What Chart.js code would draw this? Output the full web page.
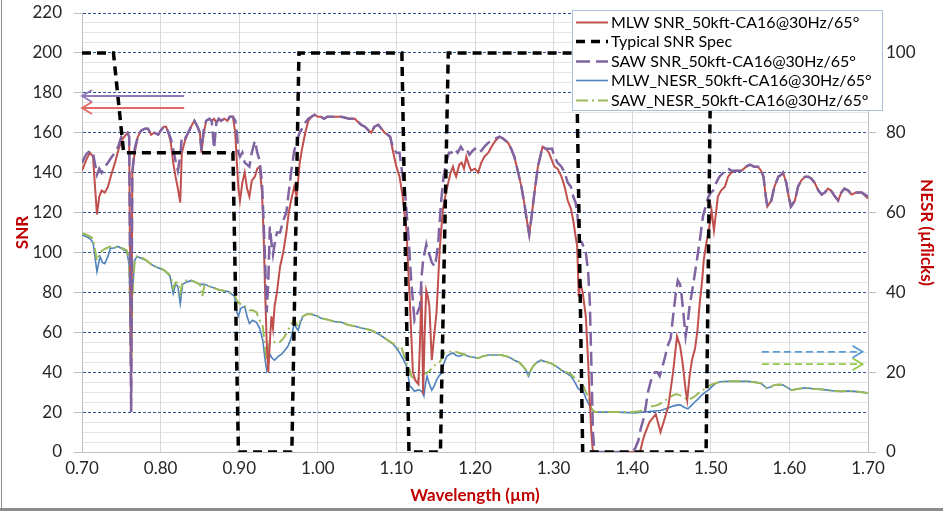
<!DOCTYPE html>
<html lang="en">
<head>
<meta charset="UTF-8">
<title>SNR / NESR vs Wavelength</title>
<script src="https://cdn.jsdelivr.net/npm/chart.js"></script>
<style>
  html, body { margin: 0; padding: 0; background: #fff; }
</style>
</head>
<body>
<canvas id="snrChart" width="943" height="515"></canvas>
<script>
// [wavelength µm, SNR]
const mlwSnr = [[0.700,141],[0.705,146],[0.710,150],[0.714,148],[0.719,119],[0.722,128],[0.725,131],[0.729,130],[0.733,133],[0.738,140],[0.742,145],[0.746,151],[0.750,156],[0.754,158],[0.758,160],[0.760,158],[0.7625,20],[0.764,140],[0.767,150],[0.771,158],[0.775,161],[0.780,162],[0.784,162],[0.788,159],[0.792,160],[0.797,159],[0.800,161],[0.804,163],[0.807,163],[0.810,160],[0.813,155],[0.816,145],[0.819,138],[0.822,132],[0.825,125],[0.827,150],[0.831,156],[0.835,160],[0.840,164],[0.843,166],[0.847,163],[0.850,160],[0.852,150],[0.855,160],[0.858,166],[0.862,167],[0.865,166],[0.868,167],[0.871,165],[0.874,167],[0.877,166],[0.881,167],[0.885,166],[0.888,168],[0.892,168],[0.895,160],[0.897,145],[0.899,132],[0.901,126],[0.904,135],[0.907,140],[0.910,132],[0.913,128],[0.916,136],[0.920,138],[0.923,142],[0.926,143],[0.929,130],[0.931,110],[0.933,80],[0.935,55],[0.937,40],[0.939,55],[0.941,68],[0.943,62],[0.945,73],[0.948,80],[0.952,93],[0.956,100],[0.960,110],[0.963,120],[0.966,126],[0.970,133],[0.973,128],[0.975,136],[0.977,145],[0.980,152],[0.984,160],[0.988,166],[0.992,168],[0.996,169],[1.000,168],[1.004,168],[1.008,167],[1.012,168],[1.020,168],[1.030,168],[1.040,167],[1.047,167],[1.055,164],[1.060,163],[1.065,161],[1.068,160],[1.072,163],[1.077,164],[1.081,162],[1.085,160],[1.089,159],[1.092,158],[1.096,150],[1.100,143],[1.104,138],[1.108,128],[1.113,110],[1.117,76],[1.121,40],[1.124,36],[1.128,34],[1.130,55],[1.132,83],[1.134,29],[1.136,60],[1.138,81],[1.140,78],[1.142,73],[1.145,46],[1.148,58],[1.151,70],[1.153,85],[1.155,101],[1.159,121],[1.163,130],[1.166,135],[1.169,140],[1.172,143],[1.174,140],[1.176,138],[1.180,144],[1.183,145],[1.186,142],[1.189,148],[1.192,144],[1.195,141],[1.200,142],[1.204,140],[1.208,145],[1.212,148],[1.217,150],[1.221,153],[1.226,156],[1.231,158],[1.236,157],[1.242,155],[1.246,152],[1.250,148],[1.255,140],[1.259,133],[1.263,124],[1.266,116],[1.269,109],[1.272,118],[1.275,128],[1.280,143],[1.286,153],[1.290,152],[1.294,150],[1.298,146],[1.301,143],[1.305,142],[1.310,138],[1.314,133],[1.318,126],[1.322,122],[1.325,116],[1.328,108],[1.330,103],[1.332,78],[1.334,85],[1.337,80],[1.341,68],[1.344,45],[1.346,26],[1.348,10],[1.350,0],[1.410,0],[1.413,5],[1.416,9],[1.422,15],[1.430,19],[1.436,10],[1.440,15],[1.446,23],[1.452,40],[1.457,58],[1.461,53],[1.464,45],[1.468,31],[1.470,26],[1.473,38],[1.476,46],[1.480,52],[1.483,61],[1.486,75],[1.489,86],[1.491,96],[1.494,104],[1.497,110],[1.501,121],[1.504,111],[1.509,128],[1.513,131],[1.518,133],[1.522,138],[1.526,140],[1.532,141],[1.539,141],[1.545,143],[1.550,144],[1.555,143],[1.560,143],[1.564,141],[1.567,138],[1.570,128],[1.572,123],[1.577,126],[1.581,133],[1.586,138],[1.590,139],[1.592,140],[1.596,135],[1.599,128],[1.602,123],[1.607,126],[1.611,133],[1.615,136],[1.620,138],[1.624,138],[1.628,137],[1.632,135],[1.637,131],[1.641,129],[1.645,130],[1.649,132],[1.653,131],[1.658,128],[1.662,126],[1.666,130],[1.670,132],[1.675,131],[1.679,129],[1.685,130],[1.692,130],[1.700,127]];

const specSnr = [[0.700,200],[0.740,200],[0.753,150],[0.892,150],[0.899,0],[0.967,0],[0.976,200],[1.107,200],[1.116,0],[1.156,0],[1.166,200],[1.329,200],[1.337,0],[1.494,0],[1.500,200],[1.700,200]];

const sawSnr = [[0.700,145],[0.705,149],[0.710,151],[0.714,150],[0.719,139],[0.722,142],[0.725,140],[0.729,143],[0.733,145],[0.738,148],[0.742,150],[0.746,153],[0.750,158],[0.754,159],[0.758,160],[0.760,158],[0.7625,20],[0.764,140],[0.767,152],[0.771,158],[0.775,161],[0.780,162],[0.784,162],[0.788,159],[0.792,160],[0.797,159],[0.800,161],[0.804,163],[0.807,163],[0.810,160],[0.813,157],[0.816,152],[0.819,146],[0.822,141],[0.825,148],[0.827,158],[0.831,157],[0.835,160],[0.840,164],[0.843,166],[0.847,163],[0.850,160],[0.852,151],[0.855,162],[0.858,166],[0.862,167],[0.865,166],[0.868,152],[0.871,165],[0.874,167],[0.877,166],[0.881,167],[0.885,166],[0.888,168],[0.892,168],[0.895,166],[0.897,160],[0.899,150],[0.901,148],[0.904,150],[0.907,145],[0.910,144],[0.913,143],[0.916,150],[0.920,156],[0.923,150],[0.926,146],[0.929,135],[0.931,116],[0.933,95],[0.935,70],[0.937,85],[0.939,113],[0.941,105],[0.943,99],[0.945,104],[0.948,110],[0.952,110],[0.956,116],[0.960,120],[0.963,130],[0.966,140],[0.970,151],[0.973,155],[0.975,158],[0.977,160],[0.980,162],[0.984,165],[0.988,167],[0.992,168],[0.996,169],[1.000,168],[1.004,168],[1.008,167],[1.012,168],[1.020,168],[1.030,168],[1.040,167],[1.047,167],[1.055,164],[1.060,163],[1.065,161],[1.068,160],[1.072,163],[1.077,164],[1.081,162],[1.085,160],[1.089,159],[1.092,158],[1.096,152],[1.100,150],[1.104,150],[1.108,138],[1.111,130],[1.115,110],[1.119,85],[1.123,66],[1.127,70],[1.130,73],[1.132,88],[1.134,96],[1.136,100],[1.138,104],[1.140,100],[1.142,99],[1.145,95],[1.149,93],[1.151,98],[1.153,104],[1.155,115],[1.157,126],[1.160,138],[1.164,146],[1.167,150],[1.170,150],[1.174,152],[1.178,150],[1.182,153],[1.185,151],[1.189,152],[1.193,149],[1.197,151],[1.200,152],[1.204,150],[1.208,151],[1.212,153],[1.217,155],[1.221,156],[1.226,157],[1.231,158],[1.236,157],[1.242,155],[1.246,152],[1.250,148],[1.255,140],[1.259,133],[1.263,124],[1.266,116],[1.269,109],[1.272,118],[1.275,128],[1.280,143],[1.286,153],[1.290,152],[1.294,152],[1.298,152],[1.301,148],[1.305,145],[1.310,143],[1.314,140],[1.318,135],[1.322,133],[1.325,128],[1.328,125],[1.330,120],[1.333,106],[1.336,105],[1.339,102],[1.341,100],[1.344,90],[1.346,76],[1.348,45],[1.350,10],[1.352,0],[1.400,0],[1.404,2],[1.408,6],[1.411,12],[1.414,16],[1.417,22],[1.420,30],[1.424,36],[1.429,40],[1.432,40],[1.435,38],[1.438,42],[1.442,48],[1.445,53],[1.449,57],[1.452,68],[1.455,78],[1.458,86],[1.461,84],[1.463,78],[1.466,66],[1.468,58],[1.471,66],[1.473,73],[1.476,80],[1.480,90],[1.483,98],[1.486,106],[1.490,118],[1.494,124],[1.497,128],[1.500,130],[1.503,131],[1.507,135],[1.511,138],[1.516,140],[1.522,142],[1.526,141],[1.532,141],[1.539,141],[1.545,143],[1.550,144],[1.555,143],[1.560,143],[1.564,141],[1.567,138],[1.570,128],[1.572,123],[1.577,126],[1.581,133],[1.586,138],[1.590,139],[1.592,140],[1.596,135],[1.599,128],[1.602,123],[1.607,126],[1.611,133],[1.615,136],[1.620,138],[1.624,138],[1.628,137],[1.632,135],[1.637,131],[1.641,129],[1.645,130],[1.649,132],[1.653,131],[1.658,128],[1.662,126],[1.666,130],[1.670,132],[1.675,131],[1.679,129],[1.685,130],[1.692,130],[1.700,128]];

// [wavelength µm, NESR µflicks]
const mlwNesr = [[0.700,54.4],[0.705,54.0],[0.710,53.5],[0.714,52.5],[0.719,45.2],[0.723,49],[0.726,47.5],[0.729,47.2],[0.733,49],[0.736,51],[0.742,51.2],[0.746,51.5],[0.752,50.8],[0.757,50.2],[0.760,47],[0.7625,25],[0.764,40],[0.767,48],[0.770,49],[0.776,48.5],[0.782,48],[0.788,47],[0.793,46.5],[0.799,46],[0.805,45.5],[0.810,44.5],[0.812,44],[0.816,39.7],[0.819,42],[0.822,41.5],[0.825,37.2],[0.828,42],[0.832,42.5],[0.839,43],[0.845,42.5],[0.850,42],[0.856,42],[0.862,41.5],[0.869,41],[0.875,40.6],[0.881,40.4],[0.886,40.2],[0.890,39.6],[0.894,39],[0.897,35],[0.899,34],[0.902,36],[0.907,36.5],[0.910,34],[0.913,32.2],[0.917,33],[0.922,32.5],[0.926,31],[0.930,28],[0.933,23],[0.935,20.5],[0.937,22],[0.939,24.5],[0.942,23.5],[0.945,23],[0.950,24],[0.954,24.5],[0.958,25.5],[0.962,26.5],[0.966,28.5],[0.970,32.2],[0.973,31],[0.975,30.5],[0.978,32.5],[0.981,34],[0.986,34.5],[0.992,34.5],[1.000,34],[1.004,33.5],[1.012,33.2],[1.021,32.7],[1.030,32.5],[1.038,31.9],[1.047,31.5],[1.057,31],[1.068,30.5],[1.078,29.5],[1.089,28],[1.096,27],[1.102,25.5],[1.108,23.5],[1.113,21.5],[1.117,16.5],[1.120,16],[1.123,15.2],[1.127,15.5],[1.130,15.5],[1.133,15],[1.135,14],[1.137,17],[1.139,19],[1.142,17],[1.145,15.5],[1.148,16.5],[1.151,18],[1.154,19],[1.157,19.7],[1.160,22],[1.164,24],[1.168,24.5],[1.172,24.8],[1.176,24.2],[1.180,24],[1.186,24.5],[1.191,24],[1.197,23.8],[1.204,23.5],[1.210,24],[1.217,24.3],[1.225,24.3],[1.233,24.3],[1.240,24],[1.246,23.5],[1.250,23],[1.256,22.5],[1.261,21.5],[1.265,20.5],[1.268,19],[1.271,20.5],[1.274,21.5],[1.279,22.5],[1.284,23],[1.290,22.6],[1.297,22.2],[1.303,21.5],[1.310,20.5],[1.316,19.8],[1.322,19],[1.327,17.5],[1.331,16],[1.334,15.5],[1.337,15.5],[1.341,13.5],[1.346,11.5],[1.350,10.3],[1.355,10],[1.380,10],[1.403,9.8],[1.425,10.2],[1.436,10.4],[1.446,11],[1.452,11.5],[1.458,11.8],[1.461,11.8],[1.466,11.2],[1.471,10.8],[1.476,11.8],[1.480,12.6],[1.485,13.5],[1.488,14.2],[1.493,15],[1.497,15.5],[1.501,16.3],[1.507,17.3],[1.512,17.6],[1.522,17.7],[1.535,17.7],[1.547,17.7],[1.556,17.5],[1.564,17.2],[1.568,16.5],[1.571,16],[1.576,16.3],[1.581,16.8],[1.587,16.9],[1.592,16.8],[1.597,16.2],[1.603,15.5],[1.610,15.8],[1.617,16],[1.624,16],[1.632,15.8],[1.640,15.7],[1.649,15.5],[1.657,15.3],[1.666,15.2],[1.675,15.3],[1.683,15.2],[1.692,15],[1.700,14.8]];

const sawNesr = [[0.700,54.8],[0.705,54.5],[0.710,54],[0.714,53.5],[0.719,48],[0.723,50],[0.726,50.5],[0.730,51],[0.736,51.5],[0.742,51.3],[0.746,51.5],[0.752,51],[0.757,50.5],[0.760,48],[0.7625,21],[0.764,38],[0.767,48],[0.770,49],[0.776,48.7],[0.782,48],[0.788,47],[0.793,46.5],[0.799,46.2],[0.805,45.5],[0.810,44.7],[0.813,44],[0.816,41],[0.819,42.5],[0.822,42.5],[0.825,39.7],[0.828,42.5],[0.832,43],[0.839,43],[0.845,42.5],[0.850,42],[0.853,39],[0.856,42],[0.862,41.5],[0.869,41],[0.875,40.6],[0.881,40.4],[0.886,40.2],[0.890,39.8],[0.894,39.5],[0.897,38],[0.899,37.5],[0.902,37],[0.907,36.5],[0.910,36],[0.913,35.5],[0.917,35.5],[0.922,35],[0.926,33],[0.930,31.5],[0.933,26],[0.935,23],[0.937,25],[0.939,28],[0.942,28],[0.945,27.5],[0.950,27.3],[0.954,28],[0.958,29],[0.962,30.5],[0.966,32],[0.970,33],[0.973,32],[0.975,31.5],[0.978,33],[0.981,34],[0.986,34.5],[0.992,34.5],[1.000,34],[1.004,33.5],[1.012,33.2],[1.021,32.7],[1.030,32.5],[1.038,31.9],[1.047,31.5],[1.057,31],[1.068,30.5],[1.078,29.5],[1.089,28],[1.096,27.2],[1.102,26],[1.106,26.5],[1.110,24],[1.113,22.2],[1.117,20.5],[1.119,19],[1.122,18.5],[1.125,18],[1.128,18.3],[1.131,19],[1.134,19.5],[1.137,19.7],[1.140,20],[1.143,20.5],[1.147,21.5],[1.151,22],[1.155,22.5],[1.158,23.5],[1.161,24.8],[1.165,25],[1.170,25.2],[1.174,25.2],[1.180,24.8],[1.186,24.5],[1.191,24],[1.197,23.8],[1.204,23.5],[1.210,24],[1.217,24.3],[1.225,24.3],[1.233,24.3],[1.240,24],[1.246,23.5],[1.250,23],[1.256,22.5],[1.261,21.5],[1.265,20.5],[1.268,19],[1.271,20.5],[1.274,21.5],[1.279,22.5],[1.284,23],[1.290,22.6],[1.297,22.2],[1.303,21.5],[1.310,20.5],[1.316,20],[1.322,19.5],[1.327,18.5],[1.331,18],[1.335,17.3],[1.338,16.5],[1.341,15],[1.344,14],[1.348,11],[1.352,10],[1.380,10],[1.400,10],[1.410,10.2],[1.416,11],[1.422,11.3],[1.429,11.6],[1.435,12],[1.440,12.8],[1.444,13.2],[1.450,14],[1.456,14.5],[1.461,14.2],[1.465,13.8],[1.471,13],[1.476,13.5],[1.480,14],[1.484,14.7],[1.490,15.5],[1.497,16.5],[1.502,17],[1.507,17.3],[1.512,17.6],[1.522,17.7],[1.535,17.7],[1.547,17.7],[1.556,17.5],[1.564,17.2],[1.568,16.5],[1.571,16],[1.576,16.3],[1.581,16.8],[1.587,16.9],[1.592,16.8],[1.597,16.2],[1.603,15.5],[1.610,15.8],[1.617,16],[1.624,16],[1.632,15.8],[1.640,15.7],[1.649,15.5],[1.657,15.3],[1.666,15.2],[1.675,15.3],[1.683,15.2],[1.692,15],[1.700,14.8]];

const seriesNames = [
  'MLW SNR_50kft-CA16@30Hz/65°',
  'Typical SNR Spec',
  'SAW SNR_50kft-CA16@30Hz/65°',
  'MLW_NESR_50kft-CA16@30Hz/65°',
  'SAW_NESR_50kft-CA16@30Hz/65°'
];

// arrows telling which axis each pair of curves reads from
const axisArrows = [
  { axis: 'y',  level: 178.4, from: 0.83,  to: 0.70,  color: '#8e78b6', dash: [] },
  { axis: 'y',  level: 172.4, from: 0.83,  to: 0.70,  color: '#e06a67', dash: [] },
  { axis: 'y2', level: 25.1,  from: 1.565, to: 1.693, color: '#5b9bd5', dash: [7, 4] },
  { axis: 'y2', level: 22.0,  from: 1.565, to: 1.693, color: '#92c94a', dash: [7, 4] }
];

const toXY = arr => arr.map(p => ({ x: p[0], y: p[1] }));

Chart.defaults.font.family = 'Lato, "Open Sans", sans-serif';
Chart.defaults.color = '#262626';

const arrowsPlugin = {
  id: 'arrows',
  afterDatasetsDraw(chart) {
    const c = chart.ctx, xs = chart.scales.x;
    axisArrows.forEach(a => {
      const ys = chart.scales[a.axis];
      const x0 = xs.getPixelForValue(a.from), x1 = xs.getPixelForValue(a.to);
      const y = ys.getPixelForValue(a.level);
      const dir = Math.sign(x1 - x0);
      c.save();
      c.strokeStyle = a.color;
      c.lineWidth = 1.8;
      c.setLineDash(a.dash);
      c.beginPath(); c.moveTo(x0, y); c.lineTo(x1, y); c.stroke();
      c.setLineDash([]);
      c.beginPath();
      c.moveTo(x1 - dir * 10, y - 6); c.lineTo(x1, y); c.lineTo(x1 - dir * 10, y + 6);
      c.stroke();
      c.restore();
    });
  }
};

const legendPlugin = {
  id: 'boxLegend',
  afterDraw(chart) {
    const c = chart.ctx, area = chart.chartArea;
    const left = area.right - 296, top = area.top - 3, w = 310, h = 100;
    c.save();
    c.fillStyle = '#fff';
    c.fillRect(left, top, w, h);
    c.strokeStyle = '#a9bfdc';
    c.lineWidth = 1;
    c.strokeRect(left + 0.5, top + 0.5, w, h);
    c.font = '16px Lato, "Open Sans", sans-serif';
    c.textBaseline = 'middle';
    c.fillStyle = '#000';
    chart.data.datasets.forEach((ds, i) => {
      const y = Math.round(top + 12 + i * 19.4) + 0.5;
      c.strokeStyle = ds.borderColor;
      c.lineWidth = ds.borderWidth;
      c.setLineDash(ds.borderDash || []);
      c.beginPath(); c.moveTo(left + 4, y); c.lineTo(left + 36, y); c.stroke();
      c.setLineDash([]);
      c.fillText(ds.label, left + 39, y);
    });
    c.restore();
  }
};

const framePlugin = {
  id: 'frame',
  afterDraw(chart) {
    const c = chart.ctx;
    c.save();
    c.strokeStyle = '#8c8c8c';
    c.lineWidth = 1;
    c.beginPath(); c.moveTo(1.5, 0); c.lineTo(1.5, 509); c.stroke();
    c.lineWidth = 3;
    c.beginPath(); c.moveTo(0, 509.5); c.lineTo(chart.width, 509.5); c.stroke();
    c.restore();
  }
};

// fixed axis boxes so the plot area lands where the original has it
const fitVertical = w => s => { s.width = w; s.paddingTop = 8; s.paddingBottom = 8; };

new Chart(document.getElementById('snrChart'), {
  type: 'line',
  data: {
    datasets: [
      { label: seriesNames[0], data: toXY(mlwSnr), yAxisID: 'y', borderColor: '#c0504d', borderWidth: 2, order: 2 },
      { label: seriesNames[1], data: toXY(specSnr), yAxisID: 'y', borderColor: '#000', borderWidth: 3.5, borderDash: [9, 6], order: 0 },
      { label: seriesNames[2], data: toXY(sawSnr), yAxisID: 'y', borderColor: '#8064a2', borderWidth: 2.5, borderDash: [14, 6], order: 1 },
      { label: seriesNames[3], data: toXY(mlwNesr), yAxisID: 'y2', borderColor: '#4f81bd', borderWidth: 1.6, order: 4 },
      { label: seriesNames[4], data: toXY(sawNesr), yAxisID: 'y2', borderColor: '#9bbb59', borderWidth: 2, borderDash: [12, 4, 2, 4], order: 3 }
    ]
  },
  options: {
    responsive: false,
    animation: false,
    layout: { padding: { top: 13, left: 0, right: 0, bottom: 0 } },
    elements: { point: { radius: 0 }, line: { tension: 0, fill: false } },
    plugins: { legend: { display: false }, tooltip: { enabled: false } },
    scales: {
      x: {
        type: 'linear', min: 0.7, max: 1.7,
        afterFit: s => { s.height = 63; },
        ticks: { stepSize: 0.1, padding: 6, font: { size: 17 }, callback: v => v.toFixed(2) },
        grid: { color: '#d9d9d9', drawTicks: false },
        border: { color: '#bfbfbf' },
        title: { display: true, text: 'Wavelength (µm)', color: '#c00000',
                 font: { size: 17, weight: 'bold' }, padding: { top: 0, bottom: 9 } }
      },
      y: {
        position: 'left', min: 0, max: 220,
        afterFit: fitVertical(82),
        ticks: { stepSize: 20, padding: 12, font: { size: 17 } },
        grid: { color: '#2f5597', tickColor: '#bfbfbf', tickLength: 8 },
        border: { color: '#bfbfbf', dash: [3, 2] },
        title: { display: true, text: 'SNR', color: '#c00000',
                 font: { size: 17, weight: 'bold' }, padding: { top: 12, bottom: 0 } }
      },
      y2: {
        position: 'right', min: 0, max: 110,
        afterFit: fitVertical(75),
        ticks: { stepSize: 2.5, autoSkip: false, includeBounds: false, padding: 10, font: { size: 17 },
                 callback: v => (v % 20 === 0 ? v : '') },
        grid: {
          z: -2,
          color: c => (c.tick && c.tick.value % 10 === 0 ? 'rgba(0,0,0,0)' : '#e4e4e4'),
          tickColor: c => (c.tick && c.tick.value % 20 === 0 ? '#bfbfbf' : 'rgba(0,0,0,0)'),
          tickLength: 8
        },
        border: { color: '#bfbfbf' },
        title: { display: true, text: 'NESR (µflicks)', color: '#c00000',
                 font: { size: 17, weight: 'bold' }, padding: { top: 6, bottom: 0 } }
      }
    }
  },
  plugins: [arrowsPlugin, legendPlugin, framePlugin]
});
</script>
</body>
</html>
